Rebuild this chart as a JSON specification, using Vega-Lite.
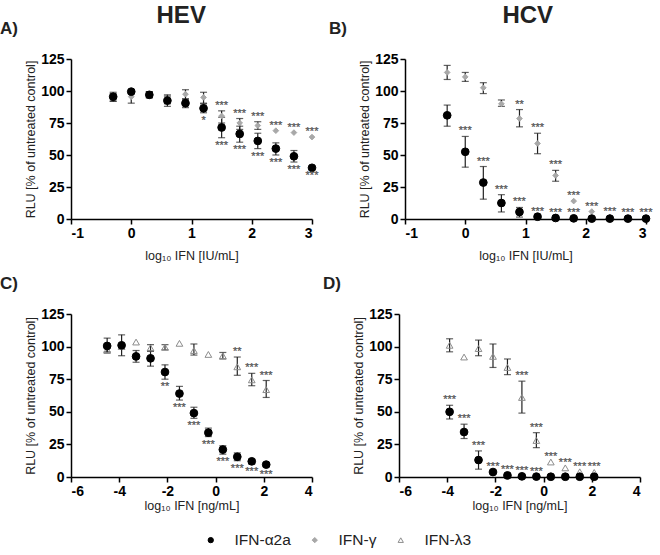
{
  "$schema": "https://vega.github.io/schema/vega-lite/v6.json",
  "background": "white",
  "padding": {"left": 0, "top": 4, "right": 2, "bottom": 2},
  "config": {
    "font": "Liberation Sans",
    "view": {"stroke": null},
    "axis": {"domainColor": "black", "domainWidth": 1.5, "tickColor": "black", "tickWidth": 1.5, "tickSize": 5, "labelFont": "Liberation Sans", "labelFontWeight": "bold", "labelFontSize": 14, "labelColor": "black", "labelPadding": 2, "titleFont": "Liberation Sans", "titleFontWeight": "normal", "titleFontSize": 12.5, "titleColor": "#222", "grid": false},
    "axisX": {"titlePadding": 9},
    "axisY": {"titlePadding": 3},
    "title": {"font": "Liberation Sans", "fontWeight": "bold", "color": "#222"},
    "legend": {"orient": "none", "legendX": 132, "legendY": 473, "direction": "horizontal", "title": null, "labelFontSize": 15.5, "labelFont": "Liberation Sans", "labelColor": "#222", "symbolSize": 28, "columnPadding": 16, "labelOffset": 16, "symbolStrokeWidth": 1}
  },
  "datasets": {
    "pts": [
      {"p": "A", "ifn": "IFN-γ", "x": -0.3, "y": 95, "lo": 92, "hi": 98},
      {"p": "A", "ifn": "IFN-γ", "x": 0, "y": 95.5, "lo": 90.5, "hi": 100},
      {"p": "A", "ifn": "IFN-γ", "x": 0.3, "y": 97, "lo": 95, "hi": 99.5},
      {"p": "A", "ifn": "IFN-γ", "x": 0.6, "y": 93, "lo": 90, "hi": 96},
      {"p": "A", "ifn": "IFN-γ", "x": 0.9, "y": 97.5, "lo": 93.5, "hi": 101},
      {"p": "A", "ifn": "IFN-γ", "x": 1.2, "y": 95, "lo": 90.5, "hi": 99},
      {"p": "A", "ifn": "IFN-γ", "x": 1.5, "y": 80.5, "lo": 75, "hi": 84.5, "sig": "***", "side": "above"},
      {"p": "A", "ifn": "IFN-γ", "x": 1.8, "y": 75, "lo": 70, "hi": 78.5, "sig": "***", "side": "above"},
      {"p": "A", "ifn": "IFN-γ", "x": 2.1, "y": 73, "lo": 70, "hi": 76, "sig": "***", "side": "above"},
      {"p": "A", "ifn": "IFN-γ", "x": 2.4, "y": 69, "sig": "***", "side": "above"},
      {"p": "A", "ifn": "IFN-γ", "x": 2.7, "y": 67.5, "sig": "***", "side": "above"},
      {"p": "A", "ifn": "IFN-γ", "x": 3, "y": 64, "sig": "***", "side": "above"},
      {"p": "A", "ifn": "IFN-α2a", "x": -0.3, "y": 95.5, "lo": 92, "hi": 99},
      {"p": "A", "ifn": "IFN-α2a", "x": 0, "y": 99.5},
      {"p": "A", "ifn": "IFN-α2a", "x": 0.3, "y": 97, "lo": 94.5, "hi": 99.5},
      {"p": "A", "ifn": "IFN-α2a", "x": 0.6, "y": 92.5, "lo": 88, "hi": 97},
      {"p": "A", "ifn": "IFN-α2a", "x": 0.9, "y": 90.5, "lo": 87, "hi": 94},
      {"p": "A", "ifn": "IFN-α2a", "x": 1.2, "y": 86.5, "lo": 83, "hi": 90, "sig": "*", "side": "below"},
      {"p": "A", "ifn": "IFN-α2a", "x": 1.5, "y": 71.5, "lo": 63.5, "hi": 79.5, "sig": "***", "side": "below"},
      {"p": "A", "ifn": "IFN-α2a", "x": 1.8, "y": 66.5, "lo": 60, "hi": 72.5, "sig": "***", "side": "below"},
      {"p": "A", "ifn": "IFN-α2a", "x": 2.1, "y": 61, "lo": 55, "hi": 67, "sig": "***", "side": "below"},
      {"p": "A", "ifn": "IFN-α2a", "x": 2.4, "y": 55, "lo": 50, "hi": 59.5, "sig": "***", "side": "below"},
      {"p": "A", "ifn": "IFN-α2a", "x": 2.7, "y": 49, "lo": 44.5, "hi": 53.5, "sig": "***", "side": "below"},
      {"p": "A", "ifn": "IFN-α2a", "x": 3, "y": 40, "sig": "***", "side": "below"},

      {"p": "B", "ifn": "IFN-γ", "x": -0.3, "y": 114.5, "lo": 109, "hi": 120},
      {"p": "B", "ifn": "IFN-γ", "x": 0, "y": 111, "lo": 107.5, "hi": 114.5},
      {"p": "B", "ifn": "IFN-γ", "x": 0.3, "y": 102.5, "lo": 98, "hi": 106.5},
      {"p": "B", "ifn": "IFN-γ", "x": 0.6, "y": 90, "lo": 88, "hi": 93},
      {"p": "B", "ifn": "IFN-γ", "x": 0.9, "y": 78.5, "lo": 72, "hi": 85.5, "sig": "**", "side": "above"},
      {"p": "B", "ifn": "IFN-γ", "x": 1.2, "y": 59, "lo": 51, "hi": 67, "sig": "***", "side": "above"},
      {"p": "B", "ifn": "IFN-γ", "x": 1.5, "y": 34, "lo": 29.5, "hi": 38, "sig": "***", "side": "above"},
      {"p": "B", "ifn": "IFN-γ", "x": 1.8, "y": 14, "sig": "***", "side": "above"},
      {"p": "B", "ifn": "IFN-γ", "x": 2.1, "y": 5.8, "sig": "***", "side": "above"},
      {"p": "B", "ifn": "IFN-γ", "x": 2.4, "y": 1.5, "sig": "***", "side": "above"},
      {"p": "B", "ifn": "IFN-γ", "x": 2.7, "y": 0.8, "sig": "***", "side": "above"},
      {"p": "B", "ifn": "IFN-γ", "x": 3, "y": 0.5, "sig": "***", "side": "above"},
      {"p": "B", "ifn": "IFN-α2a", "x": -0.3, "y": 81, "lo": 72.5, "hi": 89},
      {"p": "B", "ifn": "IFN-α2a", "x": 0, "y": 52.5, "lo": 40.5, "hi": 64.5, "sig": "***", "side": "above"},
      {"p": "B", "ifn": "IFN-α2a", "x": 0.3, "y": 28.5, "lo": 15.5, "hi": 41, "sig": "***", "side": "above"},
      {"p": "B", "ifn": "IFN-α2a", "x": 0.6, "y": 12.5, "lo": 5.5, "hi": 19, "sig": "***", "side": "above"},
      {"p": "B", "ifn": "IFN-α2a", "x": 0.9, "y": 5.5, "lo": 1.5, "hi": 9, "sig": "***", "side": "above"},
      {"p": "B", "ifn": "IFN-α2a", "x": 1.2, "y": 1.8, "sig": "***", "side": "above"},
      {"p": "B", "ifn": "IFN-α2a", "x": 1.5, "y": 0.8, "sig": "***", "side": "above"},
      {"p": "B", "ifn": "IFN-α2a", "x": 1.8, "y": 0.5, "sig": "***", "side": "above"},
      {"p": "B", "ifn": "IFN-α2a", "x": 2.1, "y": 0.3},
      {"p": "B", "ifn": "IFN-α2a", "x": 2.4, "y": 0.3},
      {"p": "B", "ifn": "IFN-α2a", "x": 2.7, "y": 0.3},
      {"p": "B", "ifn": "IFN-α2a", "x": 3, "y": 0.3},

      {"p": "C", "ifn": "IFN-λ3", "x": -4.5, "y": 97.5, "lo": 96, "hi": 99.5},
      {"p": "C", "ifn": "IFN-λ3", "x": -3.9, "y": 100},
      {"p": "C", "ifn": "IFN-λ3", "x": -3.3, "y": 103.5},
      {"p": "C", "ifn": "IFN-λ3", "x": -2.7, "y": 99, "lo": 96.5, "hi": 101.5},
      {"p": "C", "ifn": "IFN-λ3", "x": -2.1, "y": 99.5, "lo": 97.5, "hi": 101.5},
      {"p": "C", "ifn": "IFN-λ3", "x": -1.5, "y": 102.5},
      {"p": "C", "ifn": "IFN-λ3", "x": -0.9, "y": 97, "lo": 93.5, "hi": 102},
      {"p": "C", "ifn": "IFN-λ3", "x": -0.3, "y": 94},
      {"p": "C", "ifn": "IFN-λ3", "x": 0.3, "y": 93, "lo": 90.5, "hi": 95.5},
      {"p": "C", "ifn": "IFN-λ3", "x": 0.9, "y": 84.5, "lo": 78, "hi": 92, "sig": "**", "side": "above"},
      {"p": "C", "ifn": "IFN-λ3", "x": 1.5, "y": 74.5, "lo": 70, "hi": 79.5, "sig": "***", "side": "above"},
      {"p": "C", "ifn": "IFN-λ3", "x": 2.1, "y": 67, "lo": 61, "hi": 74, "sig": "***", "side": "above"},
      {"p": "C", "ifn": "IFN-α2a", "x": -4.5, "y": 100.5, "lo": 95, "hi": 106.5},
      {"p": "C", "ifn": "IFN-α2a", "x": -3.9, "y": 101, "lo": 93, "hi": 109},
      {"p": "C", "ifn": "IFN-α2a", "x": -3.3, "y": 92.5, "lo": 88, "hi": 97},
      {"p": "C", "ifn": "IFN-α2a", "x": -2.7, "y": 91, "lo": 85, "hi": 96.5},
      {"p": "C", "ifn": "IFN-α2a", "x": -2.1, "y": 80.5, "lo": 75, "hi": 86, "sig": "**", "side": "below"},
      {"p": "C", "ifn": "IFN-α2a", "x": -1.5, "y": 64, "lo": 59, "hi": 69.5, "sig": "***", "side": "below"},
      {"p": "C", "ifn": "IFN-α2a", "x": -0.9, "y": 49, "lo": 45, "hi": 53.5, "sig": "***", "side": "below"},
      {"p": "C", "ifn": "IFN-α2a", "x": -0.3, "y": 34, "lo": 31, "hi": 37.5, "sig": "***", "side": "below"},
      {"p": "C", "ifn": "IFN-α2a", "x": 0.3, "y": 21, "lo": 17.5, "hi": 24, "sig": "***", "side": "below"},
      {"p": "C", "ifn": "IFN-α2a", "x": 0.9, "y": 15.5, "lo": 12.5, "hi": 18.5, "sig": "***", "side": "below"},
      {"p": "C", "ifn": "IFN-α2a", "x": 1.5, "y": 12, "lo": 10, "hi": 13.5, "sig": "***", "side": "below"},
      {"p": "C", "ifn": "IFN-α2a", "x": 2.1, "y": 9.5, "lo": 8, "hi": 11, "sig": "***", "side": "below"},

      {"p": "D", "ifn": "IFN-λ3", "x": -3.9, "y": 101, "lo": 96, "hi": 106},
      {"p": "D", "ifn": "IFN-λ3", "x": -3.3, "y": 92},
      {"p": "D", "ifn": "IFN-λ3", "x": -2.7, "y": 98.5, "lo": 93, "hi": 105},
      {"p": "D", "ifn": "IFN-λ3", "x": -2.1, "y": 92.5, "lo": 84, "hi": 102},
      {"p": "D", "ifn": "IFN-λ3", "x": -1.5, "y": 84, "lo": 78.5, "hi": 90.5},
      {"p": "D", "ifn": "IFN-λ3", "x": -0.9, "y": 61, "lo": 49, "hi": 73.5, "sig": "***", "side": "above"},
      {"p": "D", "ifn": "IFN-λ3", "x": -0.3, "y": 28, "lo": 22.5, "hi": 34, "sig": "***", "side": "above"},
      {"p": "D", "ifn": "IFN-λ3", "x": 0.3, "y": 11.5, "sig": "***", "side": "above"},
      {"p": "D", "ifn": "IFN-λ3", "x": 0.9, "y": 7, "sig": "***", "side": "above"},
      {"p": "D", "ifn": "IFN-λ3", "x": 1.5, "y": 4, "sig": "***", "side": "above"},
      {"p": "D", "ifn": "IFN-λ3", "x": 2.1, "y": 3.5, "sig": "***", "side": "above"},
      {"p": "D", "ifn": "IFN-α2a", "x": -3.9, "y": 50, "lo": 44.5, "hi": 55, "sig": "***", "side": "above"},
      {"p": "D", "ifn": "IFN-α2a", "x": -3.3, "y": 34.5, "lo": 29.5, "hi": 40.5, "sig": "***", "side": "above"},
      {"p": "D", "ifn": "IFN-α2a", "x": -2.7, "y": 13, "lo": 6, "hi": 20, "sig": "***", "side": "above"},
      {"p": "D", "ifn": "IFN-α2a", "x": -2.1, "y": 3.8, "sig": "***", "side": "above"},
      {"p": "D", "ifn": "IFN-α2a", "x": -1.5, "y": 1.2, "sig": "***", "side": "above"},
      {"p": "D", "ifn": "IFN-α2a", "x": -0.9, "y": 0.5, "sig": "***", "side": "above"},
      {"p": "D", "ifn": "IFN-α2a", "x": -0.3, "y": 0.3, "sig": "***", "side": "above"},
      {"p": "D", "ifn": "IFN-α2a", "x": 0.3, "y": 0.2},
      {"p": "D", "ifn": "IFN-α2a", "x": 0.9, "y": 0.2},
      {"p": "D", "ifn": "IFN-α2a", "x": 1.5, "y": 0.2},
      {"p": "D", "ifn": "IFN-α2a", "x": 2.1, "y": 0.2}
    ]
  },
  "spacing": 13,
  "vconcat": [
    {
      "spacing": 10,
      "hconcat": [
        {
          "title": {"text": "HEV", "fontSize": 24, "anchor": "middle", "dx": 22, "offset": -8},
          "vconcat": [
            {
              "width": 241, "height": 160,
              "title": {"text": "A)", "anchor": "start", "frame": "group", "dx": -71, "fontSize": 17, "offset": 14},
              "data": {"name": "pts"},
              "transform": [
                {"filter": "datum.p === 'A'"},
                {"calculate": "isValid(datum.hi) ? datum.hi : datum.y", "as": "ya"},
                {"calculate": "isValid(datum.lo) ? datum.lo : datum.y", "as": "yb"}
              ],
              "encoding": {
                "x": {"field": "x", "type": "quantitative", "scale": {"domain": [-1, 3], "nice": false, "zero": false}, "axis": {"values": [-1, 0, 1, 2, 3], "labelExpr": "datum.value + ''", "title": "log₁₀ IFN [IU/mL]"}},
                "shape": {"field": "ifn", "type": "nominal", "scale": {"domain": ["IFN-α2a", "IFN-γ", "IFN-λ3"], "range": ["circle", "diamond", "triangle-up"]}},
                "fill": {"field": "ifn", "type": "nominal", "scale": {"domain": ["IFN-α2a", "IFN-γ", "IFN-λ3"], "range": ["#000000", "#a8a8a8", "transparent"]}},
                "stroke": {"field": "ifn", "type": "nominal", "scale": {"domain": ["IFN-α2a", "IFN-γ", "IFN-λ3"], "range": ["#000000", "#a8a8a8", "#8c8c8c"]}}
              },
              "layer": [
                {
                  "transform": [{"filter": "isValid(datum.lo)"}],
                  "mark": {"type": "errorbar", "ticks": {"size": 7}, "thickness": 1.2, "color": "#222"},
                  "encoding": {
                    "y": {"field": "lo", "type": "quantitative", "scale": {"domain": [0, 125], "nice": false}, "axis": {"values": [0, 25, 50, 75, 100, 125]}, "title": "RLU [% of untreated control]"},
                    "y2": {"field": "hi"}, "shape": null, "fill": null, "stroke": null
                  }
                },
                {
                  "transform": [{"filter": "datum.ifn !== 'IFN-α2a'"}],
                  "mark": {"type": "point", "opacity": 1, "strokeWidth": 1, "size": 32},
                  "encoding": {
                    "y": {"field": "y", "type": "quantitative", "scale": {"domain": [0, 125], "nice": false}, "axis": {"values": [0, 25, 50, 75, 100, 125]}, "title": "RLU [% of untreated control]"}
                  }
                },
                {
                  "transform": [{"filter": "datum.ifn === 'IFN-α2a'"}],
                  "mark": {"type": "point", "opacity": 1, "strokeWidth": 1, "size": 60},
                  "encoding": {
                    "y": {"field": "y", "type": "quantitative", "scale": {"domain": [0, 125], "nice": false}, "axis": {"values": [0, 25, 50, 75, 100, 125]}, "title": "RLU [% of untreated control]"}
                  }
                },
                {
                  "transform": [{"filter": "datum.side === 'above'"}],
                  "mark": {"type": "text", "baseline": "bottom", "dy": 0, "fontSize": 11, "fill": "#555", "stroke": "#555", "strokeWidth": 0.25},
                  "encoding": {
                    "y": {"field": "ya", "type": "quantitative", "scale": {"domain": [0, 125], "nice": false}, "axis": {"values": [0, 25, 50, 75, 100, 125]}, "title": "RLU [% of untreated control]"},
                    "text": {"field": "sig"}, "shape": null, "fill": null, "stroke": null
                  }
                },
                {
                  "transform": [{"filter": "datum.side === 'below'"}],
                  "mark": {"type": "text", "baseline": "top", "dy": 2, "fontSize": 11, "fill": "#555", "stroke": "#555", "strokeWidth": 0.25},
                  "encoding": {
                    "y": {"field": "yb", "type": "quantitative", "scale": {"domain": [0, 125], "nice": false}, "axis": {"values": [0, 25, 50, 75, 100, 125]}, "title": "RLU [% of untreated control]"},
                    "text": {"field": "sig"}, "shape": null, "fill": null, "stroke": null
                  }
                }
              ]
            }
          ]
        },
        {
          "title": {"text": "HCV", "fontSize": 24, "anchor": "middle", "dx": 37, "offset": -8},
          "vconcat": [
            {
              "width": 241, "height": 160,
              "title": {"text": "B)", "anchor": "start", "frame": "group", "dx": -76, "fontSize": 17, "offset": 14},
              "data": {"name": "pts"},
              "transform": [
                {"filter": "datum.p === 'B'"},
                {"calculate": "isValid(datum.hi) ? datum.hi : datum.y", "as": "ya"},
                {"calculate": "isValid(datum.lo) ? datum.lo : datum.y", "as": "yb"}
              ],
              "encoding": {
                "x": {"field": "x", "type": "quantitative", "scale": {"domain": [-1, 3], "nice": false, "zero": false}, "axis": {"values": [-1, 0, 1, 2, 3], "labelExpr": "datum.value + ''", "title": "log₁₀ IFN [IU/mL]"}},
                "shape": {"field": "ifn", "type": "nominal", "scale": {"domain": ["IFN-α2a", "IFN-γ", "IFN-λ3"], "range": ["circle", "diamond", "triangle-up"]}},
                "fill": {"field": "ifn", "type": "nominal", "scale": {"domain": ["IFN-α2a", "IFN-γ", "IFN-λ3"], "range": ["#000000", "#a8a8a8", "transparent"]}},
                "stroke": {"field": "ifn", "type": "nominal", "scale": {"domain": ["IFN-α2a", "IFN-γ", "IFN-λ3"], "range": ["#000000", "#a8a8a8", "#8c8c8c"]}}
              },
              "layer": [
                {
                  "transform": [{"filter": "isValid(datum.lo)"}],
                  "mark": {"type": "errorbar", "ticks": {"size": 7}, "thickness": 1.2, "color": "#222"},
                  "encoding": {
                    "y": {"field": "lo", "type": "quantitative", "scale": {"domain": [0, 125], "nice": false}, "axis": {"values": [0, 25, 50, 75, 100, 125]}, "title": "RLU [% of untreated control]"},
                    "y2": {"field": "hi"}, "shape": null, "fill": null, "stroke": null
                  }
                },
                {
                  "transform": [{"filter": "datum.ifn !== 'IFN-α2a'"}],
                  "mark": {"type": "point", "opacity": 1, "strokeWidth": 1, "size": 32},
                  "encoding": {
                    "y": {"field": "y", "type": "quantitative", "scale": {"domain": [0, 125], "nice": false}, "axis": {"values": [0, 25, 50, 75, 100, 125]}, "title": "RLU [% of untreated control]"}
                  }
                },
                {
                  "transform": [{"filter": "datum.ifn === 'IFN-α2a'"}],
                  "mark": {"type": "point", "opacity": 1, "strokeWidth": 1, "size": 60},
                  "encoding": {
                    "y": {"field": "y", "type": "quantitative", "scale": {"domain": [0, 125], "nice": false}, "axis": {"values": [0, 25, 50, 75, 100, 125]}, "title": "RLU [% of untreated control]"}
                  }
                },
                {
                  "transform": [{"filter": "datum.side === 'above'"}],
                  "mark": {"type": "text", "baseline": "bottom", "dy": 0, "fontSize": 11, "fill": "#555", "stroke": "#555", "strokeWidth": 0.25},
                  "encoding": {
                    "y": {"field": "ya", "type": "quantitative", "scale": {"domain": [0, 125], "nice": false}, "axis": {"values": [0, 25, 50, 75, 100, 125]}, "title": "RLU [% of untreated control]"},
                    "text": {"field": "sig"}, "shape": null, "fill": null, "stroke": null
                  }
                }
              ]
            }
          ]
        }
      ]
    },
    {
      "spacing": 10,
      "hconcat": [
        {
          "width": 241, "height": 163,
          "title": {"text": "C)", "anchor": "start", "frame": "group", "dx": -71, "fontSize": 17, "offset": 14},
          "data": {"name": "pts"},
          "transform": [
            {"filter": "datum.p === 'C'"},
            {"calculate": "isValid(datum.hi) ? datum.hi : datum.y", "as": "ya"},
            {"calculate": "isValid(datum.lo) ? datum.lo : datum.y", "as": "yb"}
          ],
          "encoding": {
            "x": {"field": "x", "type": "quantitative", "scale": {"domain": [-6, 4], "nice": false, "zero": false}, "axis": {"values": [-6, -4, -2, 0, 2, 4], "labelExpr": "datum.value + ''", "title": "log₁₀ IFN [ng/mL]", "titlePadding": 1}},
            "shape": {"field": "ifn", "type": "nominal", "scale": {"domain": ["IFN-α2a", "IFN-γ", "IFN-λ3"], "range": ["circle", "diamond", "triangle-up"]}},
            "fill": {"field": "ifn", "type": "nominal", "scale": {"domain": ["IFN-α2a", "IFN-γ", "IFN-λ3"], "range": ["#000000", "#a8a8a8", "transparent"]}},
            "stroke": {"field": "ifn", "type": "nominal", "scale": {"domain": ["IFN-α2a", "IFN-γ", "IFN-λ3"], "range": ["#000000", "#a8a8a8", "#8c8c8c"]}}
          },
          "layer": [
            {
              "transform": [{"filter": "isValid(datum.lo)"}],
              "mark": {"type": "errorbar", "ticks": {"size": 7}, "thickness": 1.2, "color": "#222"},
              "encoding": {
                "y": {"field": "lo", "type": "quantitative", "scale": {"domain": [0, 125], "nice": false}, "axis": {"values": [0, 25, 50, 75, 100, 125]}, "title": "RLU [% of untreated control]"},
                "y2": {"field": "hi"}, "shape": null, "fill": null, "stroke": null
              }
            },
            {
              "transform": [{"filter": "datum.ifn !== 'IFN-α2a'"}],
              "mark": {"type": "point", "opacity": 1, "strokeWidth": 1, "size": 45},
              "encoding": {
                "y": {"field": "y", "type": "quantitative", "scale": {"domain": [0, 125], "nice": false}, "axis": {"values": [0, 25, 50, 75, 100, 125]}, "title": "RLU [% of untreated control]"}
              }
            },
            {
              "transform": [{"filter": "datum.ifn === 'IFN-α2a'"}],
              "mark": {"type": "point", "opacity": 1, "strokeWidth": 1, "size": 60},
              "encoding": {
                "y": {"field": "y", "type": "quantitative", "scale": {"domain": [0, 125], "nice": false}, "axis": {"values": [0, 25, 50, 75, 100, 125]}, "title": "RLU [% of untreated control]"}
              }
            },
            {
              "transform": [{"filter": "datum.side === 'above'"}],
              "mark": {"type": "text", "baseline": "bottom", "dy": 0, "fontSize": 11, "fill": "#555", "stroke": "#555", "strokeWidth": 0.25},
              "encoding": {
                "y": {"field": "ya", "type": "quantitative", "scale": {"domain": [0, 125], "nice": false}, "axis": {"values": [0, 25, 50, 75, 100, 125]}, "title": "RLU [% of untreated control]"},
                "text": {"field": "sig"}, "shape": null, "fill": null, "stroke": null
              }
            },
            {
              "transform": [{"filter": "datum.side === 'below'"}],
              "mark": {"type": "text", "baseline": "top", "dy": 2, "fontSize": 11, "fill": "#555", "stroke": "#555", "strokeWidth": 0.25},
              "encoding": {
                "y": {"field": "yb", "type": "quantitative", "scale": {"domain": [0, 125], "nice": false}, "axis": {"values": [0, 25, 50, 75, 100, 125]}, "title": "RLU [% of untreated control]"},
                "text": {"field": "sig"}, "shape": null, "fill": null, "stroke": null
              }
            }
          ]
        },
        {
          "width": 241, "height": 163,
          "title": {"text": "D)", "anchor": "start", "frame": "group", "dx": -76, "fontSize": 17, "offset": 14},
          "data": {"name": "pts"},
          "transform": [
            {"filter": "datum.p === 'D'"},
            {"calculate": "isValid(datum.hi) ? datum.hi : datum.y", "as": "ya"},
            {"calculate": "isValid(datum.lo) ? datum.lo : datum.y", "as": "yb"}
          ],
          "encoding": {
            "x": {"field": "x", "type": "quantitative", "scale": {"domain": [-6, 4], "nice": false, "zero": false}, "axis": {"values": [-6, -4, -2, 0, 2, 4], "labelExpr": "datum.value + ''", "title": "log₁₀ IFN [ng/mL]", "titlePadding": 1}},
            "shape": {"field": "ifn", "type": "nominal", "scale": {"domain": ["IFN-α2a", "IFN-γ", "IFN-λ3"], "range": ["circle", "diamond", "triangle-up"]}},
            "fill": {"field": "ifn", "type": "nominal", "scale": {"domain": ["IFN-α2a", "IFN-γ", "IFN-λ3"], "range": ["#000000", "#a8a8a8", "transparent"]}},
            "stroke": {"field": "ifn", "type": "nominal", "scale": {"domain": ["IFN-α2a", "IFN-γ", "IFN-λ3"], "range": ["#000000", "#a8a8a8", "#8c8c8c"]}}
          },
          "layer": [
            {
              "transform": [{"filter": "isValid(datum.lo)"}],
              "mark": {"type": "errorbar", "ticks": {"size": 7}, "thickness": 1.2, "color": "#222"},
              "encoding": {
                "y": {"field": "lo", "type": "quantitative", "scale": {"domain": [0, 125], "nice": false}, "axis": {"values": [0, 25, 50, 75, 100, 125]}, "title": "RLU [% of untreated control]"},
                "y2": {"field": "hi"}, "shape": null, "fill": null, "stroke": null
              }
            },
            {
              "transform": [{"filter": "datum.ifn !== 'IFN-α2a'"}],
              "mark": {"type": "point", "opacity": 1, "strokeWidth": 1, "size": 45},
              "encoding": {
                "y": {"field": "y", "type": "quantitative", "scale": {"domain": [0, 125], "nice": false}, "axis": {"values": [0, 25, 50, 75, 100, 125]}, "title": "RLU [% of untreated control]"}
              }
            },
            {
              "transform": [{"filter": "datum.ifn === 'IFN-α2a'"}],
              "mark": {"type": "point", "opacity": 1, "strokeWidth": 1, "size": 60},
              "encoding": {
                "y": {"field": "y", "type": "quantitative", "scale": {"domain": [0, 125], "nice": false}, "axis": {"values": [0, 25, 50, 75, 100, 125]}, "title": "RLU [% of untreated control]"}
              }
            },
            {
              "transform": [{"filter": "datum.side === 'above'"}],
              "mark": {"type": "text", "baseline": "bottom", "dy": 0, "fontSize": 11, "fill": "#555", "stroke": "#555", "strokeWidth": 0.25},
              "encoding": {
                "y": {"field": "ya", "type": "quantitative", "scale": {"domain": [0, 125], "nice": false}, "axis": {"values": [0, 25, 50, 75, 100, 125]}, "title": "RLU [% of untreated control]"},
                "text": {"field": "sig"}, "shape": null, "fill": null, "stroke": null
              }
            }
          ]
        }
      ]
    }
  ]
}
